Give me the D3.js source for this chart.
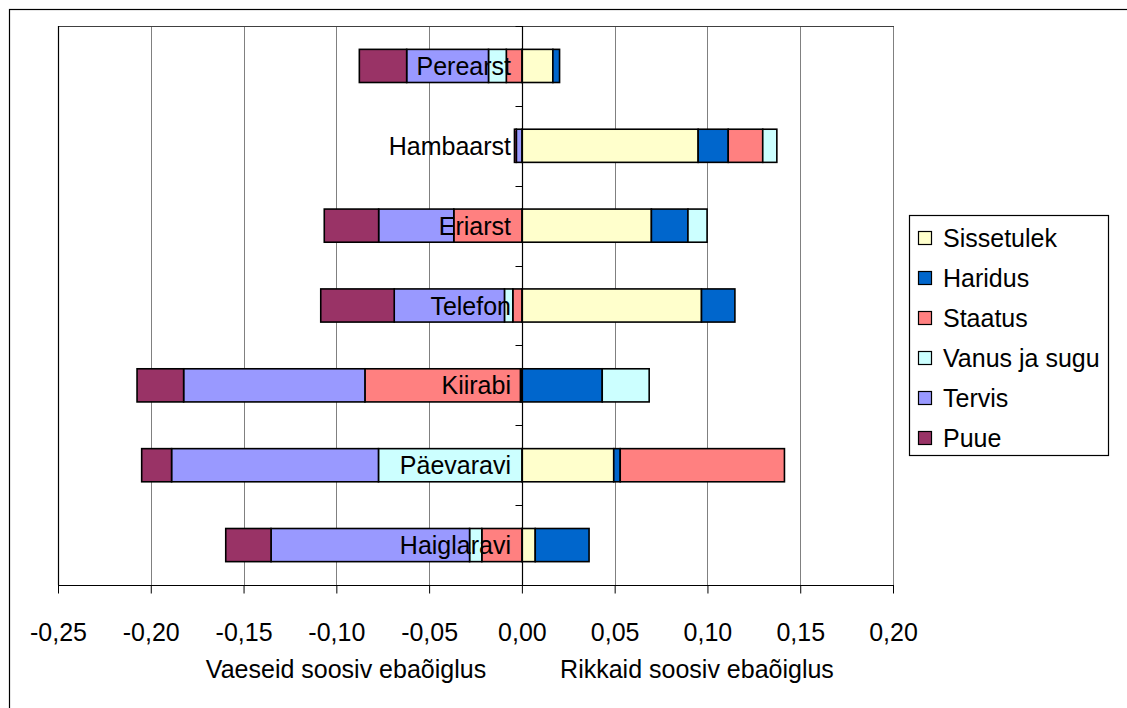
<!DOCTYPE html>
<html>
<head>
<meta charset="utf-8">
<script src="https://cdn.jsdelivr.net/npm/d3@7"></script>
<style>
  html, body { margin: 0; padding: 0; background: #fff; }
  svg { display: block; font-family: "Liberation Sans", Arial, sans-serif; }
</style>
</head>
<body>
<svg id="chart" width="1127" height="708"></svg>
<script>
// Categories, top to bottom
const categories = ["Perearst", "Hambaarst", "Eriarst", "Telefon", "Kiirabi", "Päevaravi", "Haiglaravi"];

// Contribution of each factor to inequality (negative = favours the poor)
const sissetulek = [0.0167, 0.0950, 0.0698, 0.0968, -0.0008, 0.0495, 0.0072];
const haridus    = [0.0036, 0.0162, 0.0197, 0.0180, 0.0433, 0.0035, 0.0290];
const staatus    = [-0.0084, 0.0186, -0.0367, -0.0049, -0.0838, 0.0885, -0.0216];
const vanusJaSugu= [-0.0096, 0.0076, 0.0103, -0.0045, 0.0253, -0.0773, -0.0066];
const tervis     = [-0.0441, -0.0030, -0.0405, -0.0594, -0.0977, -0.1115, -0.1070];
const puue       = [-0.0255, -0.0010, -0.0293, -0.0396, -0.0251, -0.0161, -0.0244];

const seriesNames = ["Sissetulek", "Haridus", "Staatus", "Vanus ja sugu", "Tervis", "Puue"];
const seriesValues = [sissetulek, haridus, staatus, vanusJaSugu, tervis, puue];
const seriesColors = ["#FFFFCC", "#0066CC", "#FF8080", "#CCFFFF", "#9999FF", "#993366"];

const xTicks = [-0.25, -0.20, -0.15, -0.10, -0.05, 0.00, 0.05, 0.10, 0.15, 0.20];
const axisTitles = ["Vaeseid soosiv ebaõiglus", "Rikkaid soosiv ebaõiglus"];

const FONT = 25;

const rows = categories.map((c, i) => {
  const r = { category: c };
  seriesNames.forEach((s, j) => { r[s] = seriesValues[j][i]; });
  return r;
});

const svg = d3.select("#chart");
const plot = { left: 58, right: 893, top: 26, bottom: 585 };

// Outer chart frame
svg.append("rect")
  .attr("x", 9.5).attr("y", 9.5)
  .attr("width", 1300).attr("height", 900)
  .attr("fill", "none").attr("stroke", "#000").attr("stroke-width", 1.2);

const x = d3.scaleLinear().domain([-0.25, 0.20]).range([plot.left, plot.right]);
const y = d3.scaleBand().domain(categories).range([plot.top, plot.bottom])
  .paddingInner(0.585).paddingOuter(0.2925);

// Vertical gridlines
svg.append("g").selectAll("line")
  .data(xTicks.filter(t => t !== 0 && t !== -0.25))
  .join("line")
  .attr("x1", d => Math.round(x(d)) + 0.5).attr("x2", d => Math.round(x(d)) + 0.5)
  .attr("y1", plot.top).attr("y2", plot.bottom)
  .attr("stroke", "#808080").attr("stroke-width", 1);

// Plot area top border
svg.append("line")
  .attr("x1", plot.left).attr("x2", plot.right + 1)
  .attr("y1", plot.top + 0.5).attr("y2", plot.top + 0.5)
  .attr("stroke", "#404040").attr("stroke-width", 1.2);

// Left border
svg.append("line")
  .attr("x1", plot.left + 0.5).attr("x2", plot.left + 0.5)
  .attr("y1", plot.top).attr("y2", plot.bottom)
  .attr("stroke", "#000").attr("stroke-width", 1.2);

// Stacked bars
const stack = d3.stack().keys(seriesNames).offset(d3.stackOffsetDiverging);
const stacked = stack(rows);

svg.append("g").selectAll("g")
  .data(stacked)
  .join("g")
  .attr("fill", (d, i) => seriesColors[i])
  .selectAll("rect")
  .data(d => d)
  .join("rect")
  .attr("x", d => x(Math.min(d[0], d[1])))
  .attr("width", d => Math.abs(x(d[1]) - x(d[0])))
  .attr("y", d => y(d.data.category))
  .attr("height", y.bandwidth())
  .attr("stroke", "#000").attr("stroke-width", 1.6);

// Zero axis with category ticks
const x0 = Math.round(x(0)) + 0.5;
svg.append("line")
  .attr("x1", x0).attr("x2", x0)
  .attr("y1", plot.top).attr("y2", plot.bottom)
  .attr("stroke", "#000").attr("stroke-width", 1.2);
const boundaries = d3.range(categories.length + 1).map(i => plot.top + i * y.step());
svg.append("g").selectAll("line")
  .data(boundaries)
  .join("line")
  .attr("x1", x0 - 7).attr("x2", x0)
  .attr("y1", d => Math.round(d) + 0.5).attr("y2", d => Math.round(d) + 0.5)
  .attr("stroke", "#000").attr("stroke-width", 1);

// Category labels
svg.append("g").selectAll("text")
  .data(categories)
  .join("text")
  .attr("x", 511)
  .attr("y", d => y(d) + y.bandwidth() / 2)
  .attr("dy", "0.36em")
  .attr("text-anchor", "end")
  .attr("font-size", FONT)
  .attr("fill", "#000")
  .text(d => d);

// Bottom axis
const locale = d3.formatLocale({ decimal: ",", thousands: " ", grouping: [3], currency: ["", ""], minus: "-" });
const fmt = locale.format(".2f");
const xAxis = d3.axisBottom(x).tickValues(xTicks).tickSize(8).tickPadding(30).tickFormat(fmt);
const gx = svg.append("g").attr("transform", `translate(0,${plot.bottom + 0.5})`).call(xAxis);
gx.select(".domain").attr("stroke", "#000").attr("stroke-width", 1.2).attr("d", `M${plot.left},0H${plot.right + 1}`);
gx.selectAll(".tick line").attr("stroke", "#000");
gx.selectAll(".tick text").attr("font-size", FONT).attr("font-family", "Liberation Sans, Arial, sans-serif").attr("fill", "#000");

// Axis titles
svg.append("text").attr("x", 346).attr("y", 669).attr("dy", "0.36em")
  .attr("text-anchor", "middle").attr("font-size", FONT).text(axisTitles[0]);
svg.append("text").attr("x", 697).attr("y", 669).attr("dy", "0.36em")
  .attr("text-anchor", "middle").attr("font-size", FONT).text(axisTitles[1]);

// Legend
const legend = svg.append("g");
legend.append("rect")
  .attr("x", 909.5).attr("y", 215.5).attr("width", 199).attr("height", 240)
  .attr("fill", "#fff").attr("stroke", "#000").attr("stroke-width", 1.2);
const items = legend.selectAll("g.item")
  .data(seriesNames)
  .join("g").attr("class", "item")
  .attr("transform", (d, i) => `translate(0,${238 + i * 40})`);
items.append("rect")
  .attr("x", 918.5).attr("y", -6.5).attr("width", 13).attr("height", 13)
  .attr("fill", (d, i) => seriesColors[i]).attr("stroke", "#000").attr("stroke-width", 1.2);
items.append("text")
  .attr("x", 943).attr("y", 0).attr("dy", "0.36em")
  .attr("font-size", FONT).attr("fill", "#000")
  .text(d => d);
</script>
</body>
</html>
